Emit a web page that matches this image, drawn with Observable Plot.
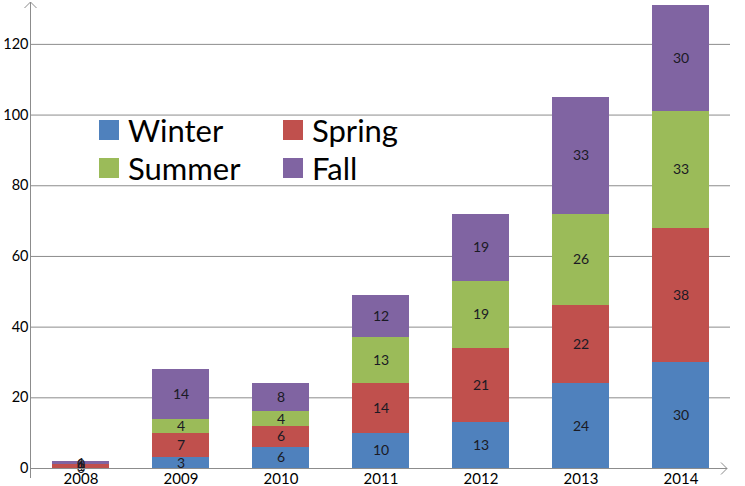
<!DOCTYPE html>
<html>
<head>
<meta charset="utf-8">
<script src="https://cdn.jsdelivr.net/npm/d3@7"></script>
<script src="https://cdn.jsdelivr.net/npm/@observablehq/plot@0.6"></script>
<style>
  body { margin: 0; background: #fff; }
  #wrap { position: relative; width: 745px; height: 486px; font-family: Lato, "Open Sans", sans-serif; }
  #legend { position: absolute; left: 99px; top: 112px; display: grid; grid-template-columns: 184px 150px; row-gap: 2px; font-size: 31px; color: #000; }
  #legend div { display: flex; align-items: center; height: 36px; white-space: nowrap; }
  #legend span.sw { display: inline-block; width: 20px; height: 20px; margin-right: 9px; }
</style>
</head>
<body>
<div id="wrap"><div id="legend"></div></div>
<script>
const years = ["2008", "2009", "2010", "2011", "2012", "2013", "2014"];
const seasons = ["Winter", "Spring", "Summer", "Fall"];
const colors = ["#4F81BD", "#C0504D", "#9BBB59", "#8064A2"];
const winter = [0, 3, 6, 10, 13, 24, 30];
const spring = [1, 7, 6, 14, 21, 22, 38];
const summer = [0, 4, 4, 13, 19, 26, 33];
const fall = [1, 14, 8, 12, 19, 33, 30];
const yTicks = [0, 20, 40, 60, 80, 100, 120];

const series = [winter, spring, summer, fall];
const data = [];
years.forEach((yr, i) => seasons.forEach((s, j) => data.push({year: yr, season: s, value: series[j][i]})));

const font = "Lato, 'Open Sans', sans-serif";
const plot = Plot.plot({
  width: 745,
  height: 486,
  marginLeft: 30,
  marginRight: 15,
  marginTop: 5,
  marginBottom: 18,
  style: {fontFamily: font, fontSize: "14.5px", color: "#000", background: "transparent"},
  x: {domain: years, paddingInner: 0.43, paddingOuter: 0.215, label: null},
  y: {domain: [0, 131], ticks: yTicks, label: null},
  color: {domain: seasons, range: colors},
  marks: [
    Plot.axisY({ticks: yTicks, tickSize: 0, tickPadding: 2, fontSize: 14.5, label: null}),
    Plot.axisX({tickSize: 0, tickPadding: 5, fontSize: 15, label: null}),
    Plot.ruleY(yTicks.filter(d => d > 0), {stroke: "#8c8c8c", strokeWidth: 1, strokeOpacity: 1}),
    Plot.barY(data, Plot.stackY({x: "year", y: "value", fill: "season", order: seasons, shapeRendering: "crispEdges"})),
    Plot.text(data, Plot.stackY({x: "year", y: "value", z: "season", text: d => String(d.value), order: seasons, fill: "#1a1a24", fontSize: 14}))
  ]
});
document.getElementById("wrap").prepend(plot);

// axis lines with arrows
const svg = d3.select(plot);
const ys = plot.scale("y");
const y0 = ys.apply(0);
const g = svg.append("g").attr("stroke", "#8c8c8c").attr("fill", "none").attr("stroke-width", 1);
g.append("line").attr("x1", 30.5).attr("x2", 30.5).attr("y1", y0 + 10).attr("y2", 2);
g.append("path").attr("d", `M24.5,8 L30.5,2 L36.5,8`);
g.append("line").attr("x1", 30).attr("x2", 727).attr("y1", y0 + 0.5).attr("y2", y0 + 0.5);
g.append("path").attr("d", `M721,${y0 - 5.5} L727,${y0 + 0.5} L721,${y0 + 6.5}`);

const leg = document.getElementById("legend");
seasons.forEach((s, i) => {
  const d = document.createElement("div");
  d.innerHTML = `<span class="sw" style="background:${colors[i]}"></span>${s}`;
  leg.appendChild(d);
});
</script>
</body>
</html>
